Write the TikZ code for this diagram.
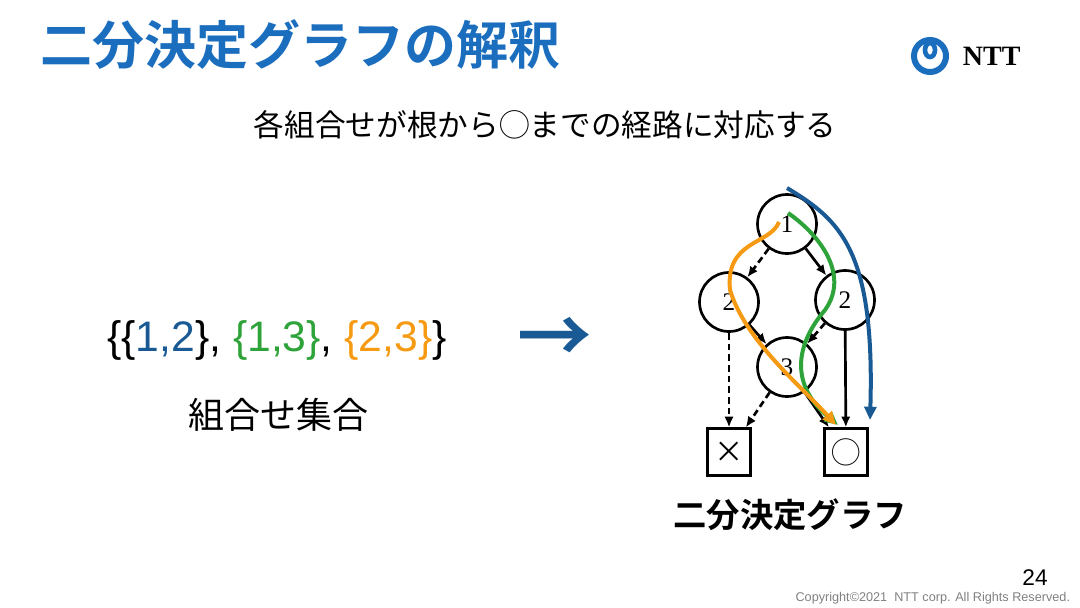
\documentclass[tikz,border=0pt]{standalone}
\usepackage{fontspec}
\setmainfont{Liberation Serif}
\newfontfamily\jp{Noto Sans CJK JP}
\newfontfamily\jpb{Noto Sans CJK JP Bold}
\newfontfamily\sans{Liberation Sans}
\usetikzlibrary{arrows.meta}
\definecolor{ttlblue}{HTML}{1B6EBE}
\definecolor{setblue}{HTML}{1A5A94}
\definecolor{setgreen}{HTML}{2EA33A}
\definecolor{setorange}{HTML}{F59A12}
\tikzset{every picture/.style={line width=0.75pt}}
\tikzset{
  bnode/.style={draw, circle, minimum size=44.25pt, inner sep=0pt, line width=2pt, font=\fontsize{19}{19}\selectfont},
  leaf/.style={draw, rectangle, minimum width=32pt, minimum height=35pt, inner sep=0pt, line width=2pt, font=\jp\fontsize{22}{22}\selectfont},
  hi/.style={-{Latex[length=8pt,width=7pt]}, line width=2pt},
  lo/.style={hi, dashed, dash pattern=on 5pt off 3pt},
  route/.style={-{Triangle[length=10pt,width=9pt]}, line width=3pt}
}
\begin{document}
\begin{tikzpicture}[x=0.75pt,y=0.75pt,yscale=-1,xscale=1]
\useasboundingbox (0,0) rectangle (1080,607);

% Title and text
\node[anchor=west, text=ttlblue, font=\jpb\fontsize{39}{39}\selectfont] (title) at (36,45) {二分決定グラフの解釈};
\node[font=\jp\fontsize{23}{23}\selectfont] (lead) at (545,125) {各組合せが根から◯までの経路に対応する};
\node[font=\sans\fontsize{32}{32}\selectfont] (sets) at (277,340) {\{\{\textcolor{setblue}{1,2}\}, \textcolor{setgreen}{\{1,3\}}, \textcolor{setorange}{\{2,3\}}\}};
\node[font=\jp\fontsize{27}{27}\selectfont] (setname) at (278,415) {組合せ集合};
\node[text=setblue, font=\jpb\fontsize{56}{56}\selectfont] (arr) at (555,340) {→};
\node[font=\jpb\fontsize{25}{25}\selectfont] (bddname) at (790,515) {二分決定グラフ};

% Logo
\draw[ttlblue, line width=4.5pt] (930,56) circle [radius=16];
\draw[ttlblue, line width=3.5pt] (930,50) ellipse [x radius=5, y radius=7];
\node[anchor=west, font=\bfseries\fontsize{21}{21}\selectfont] (ntt) at (958,56) {NTT};

% BDD
\node[bnode] (n1) at (787,224) {1};
\node[bnode] (n2a) at (729,302) {2};
\node[bnode] (n2b) at (845,300) {2};
\node[bnode] (n3) at (787,367) {3};
\node[leaf] (f) at (729,452) {×};
\node[leaf] (t) at (846,452) {◯};
\draw[lo] (n1) -- (n2a);
\draw[hi] (n1) -- (n2b);
\draw[hi] (n2a) -- (n3);
\draw[lo] (n2a) -- (f);
\draw[lo] (n2b) -- (n3);
\draw[hi] (n2b) -- (t);
\draw[lo] (n3) -- (f);
\draw[hi] (n3) -- (t);

% Routes
\coordinate (bs) at (787,188);
\coordinate (gs) at (788,213);
\coordinate (os) at (779,222);
\draw[route, setblue] (bs) .. controls (840,220) and (875,250) .. (870,420);
\draw[route, setgreen] (gs) .. controls (820,235) and (850,275) .. (825,310) .. controls (795,345) and (790,385) .. (838,425);
\draw[route, setorange] (os) .. controls (770,245) and (725,240) .. (730,290) .. controls (745,340) and (800,385) .. (836,425);

% Footer
\node[anchor=east, text=gray, font=\sans\fontsize{9.5}{9.5}\selectfont] (copy) at (1075,598) {Copyright©2021\ \ NTT corp. All Rights Reserved.};
\node[font=\sans\fontsize{17}{17}\selectfont] (page) at (1035,578) {24};
\end{tikzpicture}
\end{document}
